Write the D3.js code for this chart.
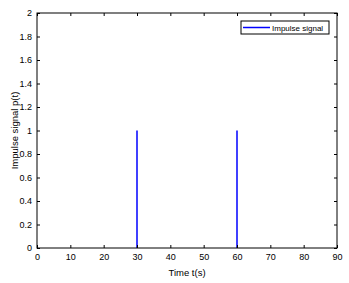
<!DOCTYPE html>
<html><head><meta charset="utf-8">
<script src="https://cdn.jsdelivr.net/npm/d3@7"></script>
<style>body{margin:0;background:#fff}svg{display:block}text{font-family:"Liberation Sans",Arial,sans-serif}</style>
</head><body>
<script>
const times = [30, 60];
const amplitudes = [1, 1];
const xTicks = [0,10,20,30,40,50,60,70,80,90];
const yTicks = [0,0.2,0.4,0.6,0.8,1,1.2,1.4,1.6,1.8,2];
const legendLabel = "Impulse signal";
const W=349,H=283, L=37, R=337, T=13, B=248;
const svg=d3.select("body").append("svg").attr("width",W).attr("height",H);
const x=d3.scaleLinear().domain([0,90]).range([L,R]);
const y=d3.scaleLinear().domain([0,2]).range([B,T]);
const g=svg.append("g");
g.selectAll(".stem").data(times).enter().append("line")
 .attr("x1",d=>x(d)).attr("x2",d=>x(d)).attr("y1",y(0)).attr("y2",(d,i)=>y(amplitudes[i]))
 .attr("stroke","#0000ff").attr("stroke-width",1.5);
const fmt=d=>String(d);
const ax=svg.append("g").attr("transform",`translate(0,${B})`).call(d3.axisBottom(x).tickValues(xTicks).tickSize(-3).tickPadding(6).tickFormat(fmt));
const ay=svg.append("g").attr("transform",`translate(${L},0)`).call(d3.axisLeft(y).tickValues(yTicks).tickSize(-3).tickPadding(5).tickFormat(fmt));
const at=svg.append("g").attr("transform",`translate(0,${T})`).call(d3.axisTop(x).tickValues(xTicks).tickSize(-3).tickFormat(""));
const ar=svg.append("g").attr("transform",`translate(${R},0)`).call(d3.axisRight(y).tickValues(yTicks).tickSize(-3).tickFormat(""));
[ax,ay,at,ar].forEach(a=>{a.selectAll("line").attr("stroke","#000");a.selectAll("text").attr("font-size",9).attr("fill","#000").attr("font-family","Liberation Sans, Arial, sans-serif");a.selectAll(".domain").remove();});
svg.append("rect").attr("x",L).attr("y",T).attr("width",R-L).attr("height",B-T).attr("fill","none").attr("stroke","#000").attr("stroke-width",1);
svg.append("text").attr("x",(L+R)/2).attr("y",276).attr("text-anchor","middle").attr("font-size",9.5).text("Time t(s)");
svg.append("text").attr("transform",`translate(17.5,${(T+B)/2}) rotate(-90)`).attr("text-anchor","middle").attr("font-size",9.5).text("Impulse signal p(t)");
const lg=svg.append("g");
lg.append("rect").attr("x",241).attr("y",21).attr("width",88).attr("height",13).attr("fill","#fff").attr("stroke","#000").attr("stroke-width",1);
lg.append("line").attr("x1",243).attr("x2",270).attr("y1",27.5).attr("y2",27.5).attr("stroke","#0000ff").attr("stroke-width",1.5);
lg.append("text").attr("x",272).attr("y",30.5).attr("font-size",8).text(legendLabel);
</script>
</body></html>
